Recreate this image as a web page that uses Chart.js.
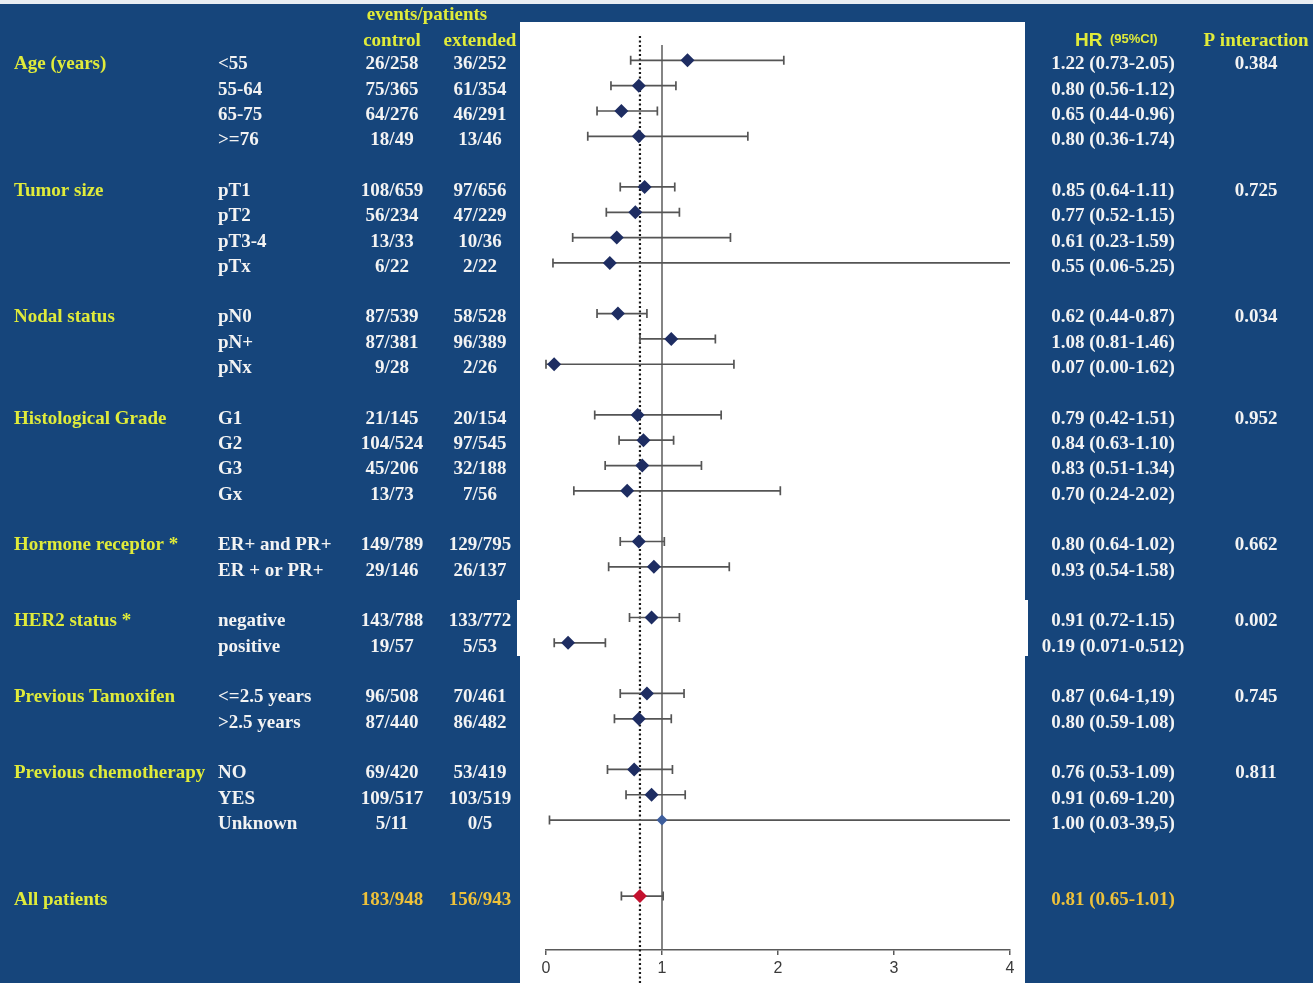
<!DOCTYPE html>
<html>
<head>
<meta charset="utf-8">
<script src="https://cdn.jsdelivr.net/npm/chart.js@4.4.1/dist/chart.umd.min.js"></script>
<style>
  html, body { margin: 0; padding: 0; background: #16457B; }
  #wrap { position: relative; width: 1313px; height: 983px; }
  canvas { display: block; }
</style>
</head>
<body>
<div id="wrap"><canvas id="forest" width="1313" height="983"></canvas></div>
<script>
// Row slot of every subgroup (gaps separate the categories)
const rowSlots = [1, 2, 3, 4, 6, 7, 8, 9, 11, 12, 13, 15, 16, 17, 18, 20, 21, 23, 24, 26, 27, 29, 30, 31, 34];

const subgroups = ['<55', '55-64', '65-75', '>=76',
  'pT1', 'pT2', 'pT3-4', 'pTx',
  'pN0', 'pN+', 'pNx',
  'G1', 'G2', 'G3', 'Gx',
  'ER+ and PR+', 'ER + or PR+',
  'negative', 'positive',
  '<=2.5 years', '>2.5 years',
  'NO', 'YES', 'Unknown',
  ''];

const controlCounts = ['26/258', '75/365', '64/276', '18/49',
  '108/659', '56/234', '13/33', '6/22',
  '87/539', '87/381', '9/28',
  '21/145', '104/524', '45/206', '13/73',
  '149/789', '29/146',
  '143/788', '19/57',
  '96/508', '87/440',
  '69/420', '109/517', '5/11',
  '183/948'];

const extendedCounts = ['36/252', '61/354', '46/291', '13/46',
  '97/656', '47/229', '10/36', '2/22',
  '58/528', '96/389', '2/26',
  '20/154', '97/545', '32/188', '7/56',
  '129/795', '26/137',
  '133/772', '5/53',
  '70/461', '86/482',
  '53/419', '103/519', '0/5',
  '156/943'];

const hazardRatio = [1.22, 0.80, 0.65, 0.80,
  0.85, 0.77, 0.61, 0.55,
  0.62, 1.08, 0.07,
  0.79, 0.84, 0.83, 0.70,
  0.80, 0.93,
  0.91, 0.19,
  0.87, 0.80,
  0.76, 0.91, 1.00,
  0.81];

const ciLower = [0.73, 0.56, 0.44, 0.36,
  0.64, 0.52, 0.23, 0.06,
  0.44, 0.81, 0.00,
  0.42, 0.63, 0.51, 0.24,
  0.64, 0.54,
  0.72, 0.071,
  0.64, 0.59,
  0.53, 0.69, 0.03,
  0.65];

const ciUpper = [2.05, 1.12, 0.96, 1.74,
  1.11, 1.15, 1.59, 5.25,
  0.87, 1.46, 1.62,
  1.51, 1.10, 1.34, 2.02,
  1.02, 1.58,
  1.15, 0.512,
  1.19, 1.08,
  1.09, 1.20, 39.5,
  1.01];

const hrLabels = ['1.22 (0.73-2.05)', '0.80 (0.56-1.12)', '0.65 (0.44-0.96)', '0.80 (0.36-1.74)',
  '0.85 (0.64-1.11)', '0.77 (0.52-1.15)', '0.61 (0.23-1.59)', '0.55 (0.06-5.25)',
  '0.62 (0.44-0.87)', '1.08 (0.81-1.46)', '0.07 (0.00-1.62)',
  '0.79 (0.42-1.51)', '0.84 (0.63-1.10)', '0.83 (0.51-1.34)', '0.70 (0.24-2.02)',
  '0.80 (0.64-1.02)', '0.93 (0.54-1.58)',
  '0.91 (0.72-1.15)', '0.19 (0.071-0.512)',
  '0.87 (0.64-1,19)', '0.80 (0.59-1.08)',
  '0.76 (0.53-1.09)', '0.91 (0.69-1.20)', '1.00 (0.03-39,5)',
  '0.81 (0.65-1.01)'];

const categoryNames = ['Age (years)', 'Tumor size', 'Nodal status', 'Histological Grade',
  'Hormone receptor *', 'HER2 status *', 'Previous Tamoxifen', 'Previous chemotherapy', 'All patients'];
const categorySlots = [1, 6, 11, 15, 20, 23, 26, 29, 34];
const pInteraction = ['0.384', '0.725', '0.034', '0.952', '0.662', '0.002', '0.745', '0.811', ''];

const xTicks = [0, 1, 2, 3, 4];
const overallHR = 0.81;   // dotted reference line
const nullHR = 1;         // line of no effect

const BLUE = '#16457B';
const YELLOW = '#E0EB3A';
const ORANGE = '#EEC13A';
const WHITE = '#F3F3F3';
const SERIF = '"Liberation Serif", "Times New Roman", serif';
const SANS = '"Liberation Sans", Arial, sans-serif';

const totalIndex = hazardRatio.length - 1;

// Blue slide background and the white plotting panel
const panelPlugin = {
  id: 'panel',
  beforeDraw(chart) {
    const ctx = chart.ctx;
    ctx.save();
    ctx.fillStyle = BLUE;
    ctx.fillRect(0, 0, chart.width, chart.height);
    ctx.fillStyle = '#E9EDF2';
    ctx.fillRect(0, 0, chart.width, 4);
    ctx.fillStyle = '#FFFFFF';
    ctx.fillRect(520, 22, 505, chart.height - 22);
    ctx.fillRect(517, 600, 511, 56);
    ctx.restore();
  }
};

// Reference lines and confidence-interval whiskers
const whiskerPlugin = {
  id: 'whiskers',
  beforeDatasetsDraw(chart) {
    const ctx = chart.ctx;
    const xs = chart.scales.x;
    const ys = chart.scales.y;
    const area = chart.chartArea;
    ctx.save();

    // line of no effect
    const x1 = xs.getPixelForValue(nullHR);
    ctx.strokeStyle = '#666666';
    ctx.lineWidth = 1.6;
    ctx.beginPath();
    ctx.moveTo(x1, area.top + 10);
    ctx.lineTo(x1, area.bottom);
    ctx.stroke();

    // overall estimate, dotted
    const xo = xs.getPixelForValue(overallHR);
    ctx.strokeStyle = '#1a1a1a';
    ctx.lineWidth = 2.2;
    ctx.setLineDash([2, 2.5]);
    ctx.beginPath();
    ctx.moveTo(xo, area.top + 1);
    ctx.lineTo(xo, chart.height);
    ctx.stroke();
    ctx.setLineDash([]);

    // whiskers with end caps (no cap where the interval leaves the axis)
    ctx.strokeStyle = '#555555';
    ctx.lineWidth = 1.7;
    for (let i = 0; i < hazardRatio.length; i++) {
      const y = ys.getPixelForValue(rowSlots[i]);
      const lo = Math.max(ciLower[i], xs.min);
      const hi = Math.min(ciUpper[i], xs.max);
      const xl = xs.getPixelForValue(lo);
      const xr = xs.getPixelForValue(hi);
      ctx.beginPath();
      ctx.moveTo(xl, y);
      ctx.lineTo(xr, y);
      if (ciLower[i] >= xs.min) { ctx.moveTo(xl, y - 4.5); ctx.lineTo(xl, y + 4.5); }
      if (ciUpper[i] <= xs.max) { ctx.moveTo(xr, y - 4.5); ctx.lineTo(xr, y + 4.5); }
      ctx.stroke();
    }
    ctx.restore();
  }
};

// Table columns on either side of the plot
const tablePlugin = {
  id: 'table',
  afterDraw(chart) {
    const ctx = chart.ctx;
    const ys = chart.scales.y;
    const rowY = s => ys.getPixelForValue(s) + 4;
    const bold = size => 'bold ' + size + 'px ' + SERIF;
    ctx.save();
    ctx.textBaseline = 'middle';

    // column headings
    ctx.font = bold(19);
    ctx.fillStyle = YELLOW;
    ctx.textAlign = 'center';
    ctx.fillText('events/patients', 427, 15);
    ctx.fillText('control', 392, 41);
    ctx.fillText('extended', 480, 41);
    ctx.fillText('P interaction', 1256, 41);
    ctx.textAlign = 'left';
    ctx.font = 'bold 19px ' + SANS;
    ctx.fillText('HR', 1075, 41);
    ctx.font = 'bold 13px ' + SANS;
    ctx.fillText('(95%CI)', 1110, 39);

    // category names and interaction p-values
    for (let c = 0; c < categoryNames.length; c++) {
      const y = rowY(categorySlots[c]);
      ctx.font = bold(19);
      ctx.fillStyle = YELLOW;
      ctx.textAlign = 'left';
      ctx.fillText(categoryNames[c], 14, y);
      ctx.fillStyle = WHITE;
      ctx.textAlign = 'center';
      ctx.fillText(pInteraction[c], 1256, y);
    }

    // subgroup rows
    ctx.font = bold(19);
    for (let i = 0; i < subgroups.length; i++) {
      const y = rowY(rowSlots[i]);
      const numColor = i === totalIndex ? ORANGE : WHITE;
      ctx.fillStyle = WHITE;
      ctx.textAlign = 'left';
      ctx.fillText(subgroups[i], 218, y);
      ctx.fillStyle = numColor;
      ctx.textAlign = 'center';
      ctx.fillText(controlCounts[i], 392, y);
      ctx.fillText(extendedCounts[i], 480, y);
      ctx.fillText(hrLabels[i], 1113, y);
    }
    ctx.restore();
  }
};

const points = hazardRatio.map((v, i) => ({ x: v, y: rowSlots[i] }));

new Chart(document.getElementById('forest'), {
  type: 'scatter',
  data: {
    datasets: [{
      data: points,
      pointStyle: 'rectRot',
      pointRadius: ctx => (ciUpper[ctx.dataIndex] > 10 ? 5.5 : 7),
      backgroundColor: ctx => (ctx.dataIndex === totalIndex ? '#C4122F' : (ciUpper[ctx.dataIndex] > 10 ? '#3E5E9C' : '#1E2D62')),
      borderWidth: 0
    }]
  },
  options: {
    responsive: false,
    devicePixelRatio: 1,
    animation: false,
    events: [],
    layout: { padding: { left: 546, right: 303, top: 35, bottom: 0 } },
    plugins: { legend: { display: false }, tooltip: { enabled: false } },
    scales: {
      x: {
        type: 'linear',
        min: xTicks[0],
        max: xTicks[xTicks.length - 1],
        afterBuildTicks: s => { s.ticks = xTicks.map(v => ({ value: v })); },
        ticks: { color: '#3a3a3a', font: { family: SANS, size: 16 }, padding: 4 },
        grid: { drawOnChartArea: false, drawTicks: true, tickLength: 5, color: '#5a5a5a', lineWidth: 1.5 },
        border: { color: '#5a5a5a', width: 1.5 },
        afterFit: s => { s.height = 33; }
      },
      y: { type: 'linear', reverse: true, min: 0, max: 36.13, display: false }
    }
  },
  plugins: [panelPlugin, whiskerPlugin, tablePlugin]
});
</script>
</body>
</html>
